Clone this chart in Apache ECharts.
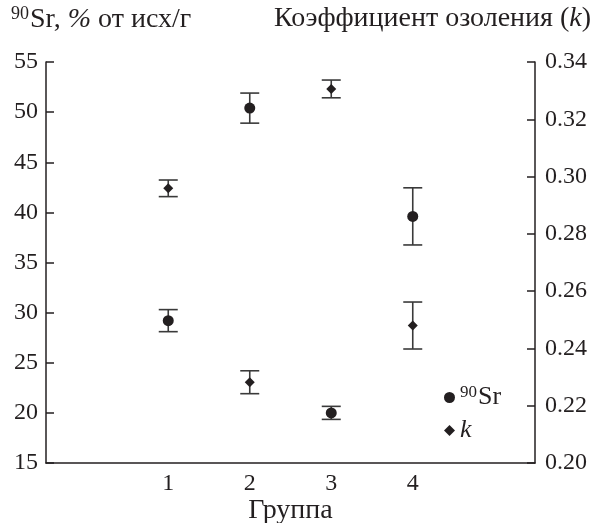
<!DOCTYPE html>
<html><head><meta charset="utf-8">
<script src="https://cdn.jsdelivr.net/npm/echarts@6/dist/echarts.min.js"></script>
<style>html,body{margin:0;padding:0;background:#fff}#c{width:595px;height:523px}</style>
</head><body><div id="c"></div>
<script>
var categories = ['', '1', '2', '3', '4', ''];
var groups = [1, 2, 3, 4];
var srValues = [29.2, 50.4, 20.0, 39.6];
var srErrors = [1.1, 1.5, 0.65, 2.85];
var kValues = [0.2959, 0.2282, 0.3306, 0.2480];
var kErrors = [0.0029, 0.0040, 0.0031, 0.0082];
var leftTicks = {min: 15, max: 55, interval: 5};
var rightTicks = {min: 0.20, max: 0.34, interval: 0.02};

var FONT = "'Liberation Serif', 'Times New Roman', serif";
var INK = '#231f20';
var FS = 24;
var FT = 28;

function pts(vals){ return groups.map(function(g,i){ return [g, vals[i]]; }); }
function errData(vals, errs){ return groups.map(function(g,i){ return [g, vals[i]-errs[i], vals[i]+errs[i]]; }); }

function errRender(params, api){
  var x = api.value(0);
  var lo = api.coord([x, api.value(1)]);
  var hi = api.coord([x, api.value(2)]);
  var hw = 9.5;
  var st = {stroke: '#3a3a3a', lineWidth: 1.6};
  return {type: 'group', children: [
    {type: 'line', shape: {x1: lo[0], y1: lo[1], x2: hi[0], y2: hi[1]}, style: st},
    {type: 'line', shape: {x1: lo[0]-hw, y1: lo[1], x2: lo[0]+hw, y2: lo[1]}, style: st},
    {type: 'line', shape: {x1: hi[0]-hw, y1: hi[1], x2: hi[0]+hw, y2: hi[1]}, style: st}
  ]};
}

function rich(fs){
  return {
    n: {fontFamily: FONT, fontSize: fs, fontWeight: 'normal', color: INK},
    i: {fontFamily: FONT, fontSize: fs, fontWeight: 'normal', color: INK, fontStyle: 'italic'},
    sup: {fontFamily: FONT, fontSize: Math.round(fs*0.65), fontWeight: 'normal', color: INK, padding: [0, 1, Math.round(fs*0.4), 0]}
  };
}

var chart = echarts.init(document.getElementById('c'), null, {renderer: 'canvas'});
var lblStyle = {fontFamily: FONT, fontSize: FS, color: INK};
chart.setOption({
  animation: false,
  title: [
    {left: 11, top: 5, padding: 0, text: '{sup|90}{n|Sr, }{i|%}{n| от исх/г}', textStyle: {fontWeight: 'normal', rich: rich(FT)}},
    {right: 4, top: 5, padding: 0, text: '{n|Коэффициент озоления (}{i|k}{n|)}', textStyle: {fontWeight: 'normal', rich: rich(FT)}}
  ],
  grid: {left: 46, right: 60, top: 62, bottom: 60, containLabel: false, outerBoundsMode: 'none'},
  legend: {
    orient: 'vertical', left: 444, top: 384, itemGap: 7, itemWidth: 11, itemHeight: 11, padding: 0,
    data: [{name: 'Sr', icon: 'circle'}, {name: 'k', icon: 'diamond'}],
    formatter: function(n){ return n === 'Sr' ? '{sup|90}{n|Sr}' : '{i|k}'; },
    textStyle: {fontFamily: FONT, fontSize: 26, color: INK, rich: rich(26)}
  },
  xAxis: {
    type: 'category', data: categories, boundaryGap: true,
    axisLine: {lineStyle: {color: INK, width: 1.5}},
    axisTick: {inside: true, alignWithLabel: true, length: 8, lineStyle: {color: INK, width: 1.5}},
    axisLabel: Object.assign({margin: 9}, lblStyle),
    splitLine: {show: false},
    name: 'Группа', nameLocation: 'middle', nameGap: 34, nameMoveOverlap: false,
    nameTextStyle: {fontFamily: FONT, fontSize: FT, color: INK}
  },
  yAxis: [
    {type: 'value', min: leftTicks.min, max: leftTicks.max, interval: leftTicks.interval, position: 'left',
     axisLine: {show: true, lineStyle: {color: INK, width: 1.5}},
     axisTick: {show: true, inside: true, length: 8, lineStyle: {color: INK, width: 1.5}},
     axisLabel: Object.assign({margin: 8}, lblStyle),
     splitLine: {show: false}},
    {type: 'value', min: rightTicks.min, max: rightTicks.max, interval: rightTicks.interval, position: 'right',
     axisLine: {show: true, lineStyle: {color: INK, width: 1.5}},
     axisTick: {show: true, inside: true, length: 8, lineStyle: {color: INK, width: 1.5}},
     axisLabel: Object.assign({margin: 10, formatter: function(v){ return v.toFixed(2); }}, lblStyle),
     splitLine: {show: false}}
  ],
  series: [
    {type: 'custom', name: 'srErr', yAxisIndex: 0, renderItem: errRender, data: errData(srValues, srErrors), z: 1},
    {type: 'custom', name: 'kErr', yAxisIndex: 1, renderItem: errRender, data: errData(kValues, kErrors), z: 1},
    {type: 'scatter', name: 'Sr', yAxisIndex: 0, symbol: 'circle', symbolSize: 11, itemStyle: {color: INK, opacity: 1}, data: pts(srValues), z: 3},
    {type: 'scatter', name: 'k', yAxisIndex: 1, symbol: 'diamond', symbolSize: 10, itemStyle: {color: INK, opacity: 1}, data: pts(kValues), z: 3}
  ]
});
</script></body></html>
